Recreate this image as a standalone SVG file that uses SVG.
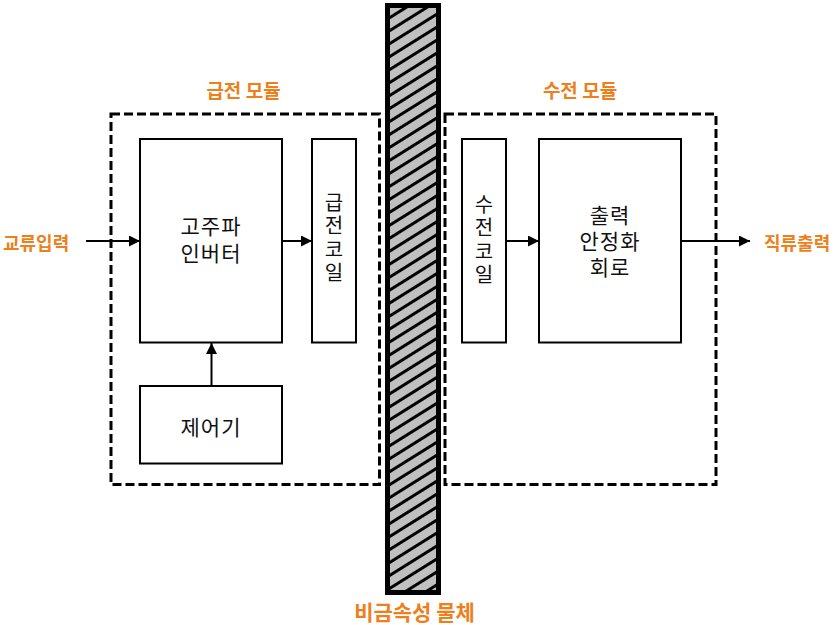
<svg xmlns="http://www.w3.org/2000/svg" width="836" height="625" viewBox="0 0 836 625">
<defs>
<style>
.box{fill:#fff;stroke:#000;stroke-width:2}
.dash{fill:none;stroke:#000;stroke-width:3;stroke-dasharray:9 4}
.lbl{font-family:"Noto Sans CJK KR","Noto Sans",sans-serif;font-size:19px;font-weight:bold;fill:#EE7F1A}
.txt{font-family:"Noto Sans CJK KR","Noto Sans",sans-serif;font-size:21px;fill:#111;text-anchor:middle;letter-spacing:1px}
.vt{font-family:"Noto Sans CJK KR","Noto Sans",sans-serif;font-size:20px;fill:#111;writing-mode:vertical-rl;letter-spacing:3.5px}
.con{stroke:#000;stroke-width:2;fill:none;marker-end:url(#ah)}
</style>
<marker id="ah" viewBox="0 0 10 10" refX="10" refY="5" markerWidth="5.5" markerHeight="5.5" markerUnits="strokeWidth" orient="auto">
<path d="M0,0 L10,5 L0,10 Z" fill="#000"/>
</marker>
<pattern id="hatch" patternUnits="userSpaceOnUse" width="20" height="11" patternTransform="rotate(-32)">
<rect width="20" height="11" fill="#c0c0c0"/>
<rect y="0" width="20" height="3" fill="#000"/>
</pattern>
</defs>
<rect width="836" height="625" fill="#fff"/>

<g id="tx-module">
<rect class="dash" x="111" y="114" width="268.5" height="370.5"/>
<text class="lbl" x="243.5" y="98" text-anchor="middle">급전 모듈</text>
</g>
<g id="rx-module">
<rect class="dash" x="445" y="114" width="271" height="370.5"/>
<text class="lbl" x="580" y="98" text-anchor="middle">수전 모듈</text>
</g>

<g id="barrier">
<rect x="387.5" y="5.5" width="51" height="587" fill="url(#hatch)" stroke="#000" stroke-width="5"/>
<text class="lbl" x="414.5" y="620" text-anchor="middle" style="font-size:21px">비금속성 물체</text>
</g>

<g id="inverter">
<rect class="box" x="140" y="139" width="142" height="203.5"/>
<text class="txt"><tspan x="211" y="234">고주파</tspan><tspan x="211" y="261">인버터</tspan></text>
</g>
<g id="controller">
<rect class="box" x="140" y="386" width="142" height="77.5"/>
<text class="txt" x="211" y="435">제어기</text>
</g>
<g id="tx-coil">
<rect class="box" x="312" y="139" width="44" height="203.5"/>
<text class="vt" x="334" y="192">급전코일</text>
</g>
<g id="rx-coil">
<rect class="box" x="462" y="139" width="44" height="203.5"/>
<text class="vt" x="484" y="194">수전코일</text>
</g>
<g id="output-circuit">
<rect class="box" x="539" y="139" width="142" height="203.5"/>
<text class="txt"><tspan x="610" y="223">출력</tspan><tspan x="610" y="249">안정화</tspan><tspan x="610" y="275">회로</tspan></text>
</g>
<g id="io-labels">
<text class="lbl" x="3" y="250" style="font-size:18px">교류입력</text>
<text class="lbl" x="764" y="250" style="font-size:18px">직류출력</text>
</g>

<g id="connectors">
<line class="con" x1="86" y1="241" x2="140" y2="241"/>
<line class="con" x1="282" y1="241" x2="312" y2="241"/>
<line class="con" x1="506" y1="241" x2="539" y2="241"/>
<line class="con" x1="681" y1="241" x2="750" y2="241"/>
<line class="con" x1="211.5" y1="386" x2="211.5" y2="343"/>
</g>
</svg>
